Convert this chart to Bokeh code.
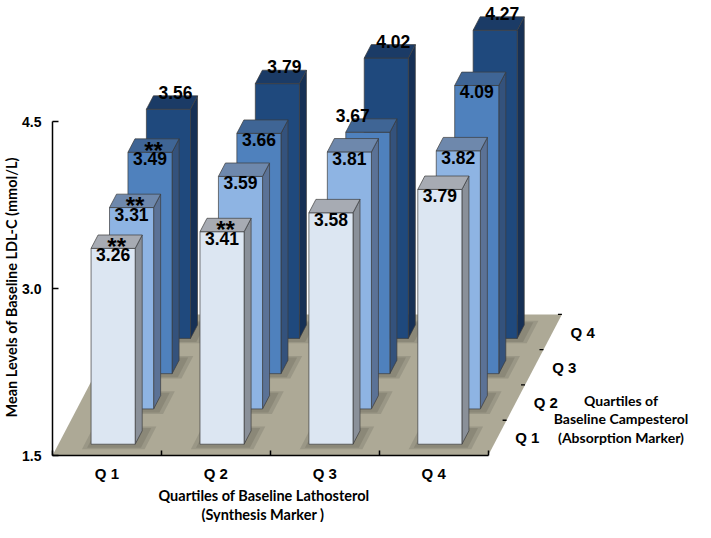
from bokeh.plotting import figure
from bokeh.models import ColumnDataSource, Range1d, FixedTicker, NumeralTickFormatter, Title
from bokeh.core.properties import value
from bokeh.embed import file_html
from bokeh.resources import INLINE

# ---------------- data ----------------
lathosterol_quartiles = ["Q 1", "Q 2", "Q 3", "Q 4"]
campesterol_quartiles = ["Q 1", "Q 2", "Q 3", "Q 4"]
# mean baseline LDL-C (mmol/L) by lathosterol quartile, one list per campesterol quartile
ldl_campesterol_q1 = [3.26, 3.41, 3.58, 3.79]
ldl_campesterol_q2 = [3.31, 3.59, 3.81, 3.82]
ldl_campesterol_q3 = [3.49, 3.66, 3.67, 4.09]
ldl_campesterol_q4 = [3.56, 3.79, 4.02, 4.27]
sig_campesterol_q1 = ["**", "**", "", ""]
sig_campesterol_q2 = ["**", "", "", ""]
sig_campesterol_q3 = ["**", "", "", ""]
sig_campesterol_q4 = ["", "", "", ""]
y_ticks = [1.5, 3.0, 4.5]
y_title = "Mean Levels of Baseline LDL-C (mmol/L)"
x_title = ["Quartiles of Baseline Lathosterol", "(Synthesis Marker )"]
depth_title = ["Quartiles of", "Baseline Campesterol", "(Absorption Marker)"]

rows = [ldl_campesterol_q1, ldl_campesterol_q2, ldl_campesterol_q3, ldl_campesterol_q4]
sigs = [sig_campesterol_q1, sig_campesterol_q2, sig_campesterol_q3, sig_campesterol_q4]

# ---------------- style / geometry ----------------
face_colors = ["#DCE6F2", "#8EB4E3", "#4F81BD", "#1F497D"]
top_colors = ["#A7ABB3", "#6E88AC", "#3F6595", "#1B3B66"]
side_colors = ["#8A9099", "#5B7296", "#34527C", "#163055"]
floor_color = "#ADA996"
edge_color = "#3C3C3C"

W, H = 695, 522
BORDER_L, BORDER_B = 50, 64
FRAME_W, FRAME_H = W - BORDER_L, H - BORDER_B
PX_X = 109.25          # px per lathosterol category
PX_Y = 112.0           # px per mmol/L
DX_PX, DY_PX = 18.5, 35.5   # screen shift per campesterol row
Y0 = y_ticks[0]
KX = DX_PX / PX_X
KY = DY_PX / PX_Y
BX0, BW = 0.30, 0.405
D0, BD = 0.32, 0.38
n_cat = len(lathosterol_quartiles)
n_rows = len(campesterol_quartiles)
VAL_FONT = value("Liberation Sans")


def proj(x, d, h):
    return x + d * KX, h + d * KY


def quad(pts):
    xs, ys = zip(*[proj(*q) for q in pts])
    return list(xs), list(ys)


p = figure(width=W, height=H,
           x_range=Range1d(0, FRAME_W / PX_X), y_range=Range1d(Y0, Y0 + FRAME_H / PX_Y),
           output_backend="svg", toolbar_location=None,
           min_border_left=BORDER_L, min_border_right=0, min_border_top=0, min_border_bottom=BORDER_B)
p.grid.visible = False
p.outline_line_color = None
p.background_fill_color = "white"
p.border_fill_color = "white"

# ---------------- floor ----------------
fx, fy = quad([(0, 0, Y0), (n_cat, 0, Y0), (n_cat, n_rows, Y0), (0, n_rows, Y0)])
p.patch(fx, fy, fill_color=floor_color, line_color=None)

# shadows
shx, shy = [], []
for r in range(n_rows):
    d0, d1 = r + D0, r + D0 + BD
    for c in range(n_cat):
        x0, x1 = c + BX0, c + BX0 + BW
        for e in (0.0, 0.04):
            a, b = quad([(x0 - 0.02 - e, d0 - 0.10 - e, Y0), (x1 + 0.07 + e, d0 - 0.10 - e, Y0),
                         (x1 + 0.07 + e, d1 + 0.08 + e, Y0), (x0 - 0.02 - e, d1 + 0.08 + e, Y0)])
            shx.append(a)
            shy.append(b)
p.patches(shx, shy, fill_color="#4a473c", fill_alpha=0.18, line_color=None)

# depth axis ticks and labels
tk_x0, tk_y0, tk_x1 = [], [], []
for k in range(1, n_rows + 1):
    x, y = proj(n_cat, k, Y0)
    tk_x0.append(x - 4 / PX_X)
    tk_x1.append(x)
    tk_y0.append(y)
p.segment(tk_x0, tk_y0, tk_x1, tk_y0, line_color="black", line_width=1.3)

dl = ColumnDataSource(dict(
    x=[proj(n_cat, k + 0.5, Y0)[0] for k in range(n_rows)],
    y=[proj(n_cat, k + 0.5, Y0)[1] for k in range(n_rows)],
    t=campesterol_quartiles))
p.text("x", "y", text="t", source=dl, x_offset=30, text_align="center", text_baseline="middle",
       text_font=VAL_FONT, text_font_style="bold", text_font_size="15px", text_color="black")

ax_, ay_ = proj(n_cat, 0.5, Y0)
dt = ColumnDataSource(dict(
    x=[ax_ + 124 / PX_X] * len(depth_title),
    y=[ay_ + (len(depth_title) - 1 - i) * 19 / PX_Y for i in range(len(depth_title))],
    t=depth_title))
p.text("x", "y", text="t", source=dt, text_align="center", text_baseline="middle",
       text_font=value("Lato"), text_font_style="bold", text_font_size="14px", text_color="black")

# ---------------- bars (back to front) ----------------
for r in reversed(range(n_rows)):
    vals = rows[r]
    d0, d1 = r + D0, r + D0 + BD
    F = dict(xs=[], ys=[])
    T = dict(xs=[], ys=[])
    S = dict(xs=[], ys=[])
    inside = dict(x=[], y=[], t=[])
    above = dict(x=[], y=[], t=[])
    stars = dict(x=[], y=[], t=[])
    for c, v in enumerate(vals):
        x0, x1 = c + BX0, c + BX0 + BW
        a, b = quad([(x0, d0, Y0), (x1, d0, Y0), (x1, d0, v), (x0, d0, v)])
        F["xs"].append(a); F["ys"].append(b)
        a, b = quad([(x0, d0, v), (x1, d0, v), (x1, d1, v), (x0, d1, v)])
        T["xs"].append(a); T["ys"].append(b)
        a, b = quad([(x1, d0, Y0), (x1, d1, Y0), (x1, d1, v), (x1, d0, v)])
        S["xs"].append(a); S["ys"].append(b)
        xc = (x0 + x1) / 2
        lab = f"{v:.2f}"
        if r == n_rows - 1:
            x, y = proj(xc, d1, v)
            above["x"].append(x); above["y"].append(y); above["t"].append(lab)
        else:
            own_px = (v - Y0) * PX_Y + d0 * DY_PX
            vf = rows[r - 1][c] if r > 0 else Y0
            front_px = (vf - Y0) * PX_Y + (d0 - 1 + BD) * DY_PX if r > 0 else -1e9
            if own_px - 22 < front_px:
                x, y = proj(x0, d1, v)
                above["x"].append(x); above["y"].append(y); above["t"].append(lab)
            else:
                x, y = proj(xc, d0, v)
                inside["x"].append(x); inside["y"].append(y); inside["t"].append(lab)
        if sigs[r][c]:
            x, y = proj(xc, (d0 + d1) / 2, v)
            stars["x"].append(x); stars["y"].append(y); stars["t"].append(sigs[r][c])
    p.patches("xs", "ys", source=ColumnDataSource(S), fill_color=side_colors[r],
              line_color=edge_color, line_width=0.7)
    p.patches("xs", "ys", source=ColumnDataSource(F), fill_color=face_colors[r],
              line_color=edge_color, line_width=0.7)
    p.patches("xs", "ys", source=ColumnDataSource(T), fill_color=top_colors[r],
              line_color=edge_color, line_width=0.7)
    common = dict(text_font=VAL_FONT, text_font_style="bold", text_color="black", text_align="center")
    if inside["t"]:
        p.text("x", "y", text="t", source=ColumnDataSource(inside), text_baseline="top",
               y_offset=0, text_font_size="17.5px", **common)
    if above["t"]:
        p.text("x", "y", text="t", source=ColumnDataSource(above), text_baseline="bottom",
               y_offset=3, text_font_size="17.5px", **common)
    if stars["t"]:
        p.text("x", "y", text="t", source=ColumnDataSource(stars), text_baseline="middle",
               y_offset=5, text_font_size="24px", **common)

# ---------------- axes ----------------
yax = p.yaxis[0]
yax.ticker = FixedTicker(ticks=y_ticks)
yax.formatter = NumeralTickFormatter(format="0.0")
yax.bounds = (y_ticks[0], y_ticks[-1])
yax.major_label_text_font = "Liberation Sans"
yax.major_label_text_font_style = "bold"
yax.major_label_text_font_size = "14px"
yax.major_label_text_color = "black"
yax.major_label_standoff = 11
yax.major_tick_in = 6
yax.major_tick_out = 0
yax.minor_tick_in = 0
yax.minor_tick_out = 0
yax.axis_line_width = 1.5
yax.axis_line_color = "black"
yax.major_tick_line_color = "black"
yax.major_tick_line_width = 1.5

xax = p.xaxis[0]
xax.ticker = FixedTicker(ticks=[i + 0.5 for i in range(n_cat)], minor_ticks=list(range(n_cat + 1)))
xax.major_label_overrides = {i + 0.5: lab for i, lab in enumerate(lathosterol_quartiles)}
xax.bounds = (0, n_cat)
xax.major_label_text_font = "Liberation Sans"
xax.major_label_text_font_style = "bold"
xax.major_label_text_font_size = "15px"
xax.major_label_text_color = "black"
xax.major_label_standoff = 9
xax.major_tick_in = 0
xax.major_tick_out = 0
xax.minor_tick_in = 5
xax.minor_tick_out = 0
xax.minor_tick_line_color = "black"
xax.minor_tick_line_width = 1.5
xax.axis_line_width = 1.5
xax.axis_line_color = "black"

# axis titles, positioned along the bounded axes
title_style = dict(text_font="Lato", text_font_style="bold", text_font_size="14.5px",
                   text_color="black", align="left", standoff=0)
p.add_layout(Title(text=y_title, offset=38, **title_style), "left")
p.add_layout(Title(text=x_title[0], offset=106, **title_style), "below")
p.add_layout(Title(text=x_title[1], offset=149, **title_style), "below")

open("out.html", "w").write(file_html(p, INLINE))
